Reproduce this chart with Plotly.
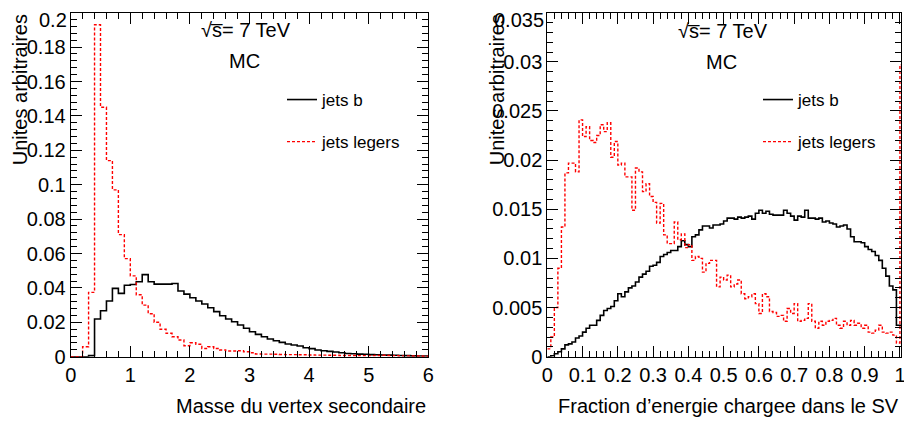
import plotly.graph_objects as go

# ---------------- data ----------------
# Left panel: secondary vertex mass, 60 bins of 0.1 from 0 to 6
mass_edges = [round(0.1 * i, 2) for i in range(61)]
mass_b = [0, 0, 0, 0.0006, 0.0219, 0.0267, 0.0324, 0.0397, 0.0368, 0.0415,
          0.0420, 0.0436, 0.0477, 0.0436, 0.0422, 0.0422, 0.0422, 0.0426, 0.0382, 0.0364,
          0.0343, 0.0324, 0.0306, 0.0285, 0.0262, 0.0238, 0.0219, 0.0203, 0.0184, 0.0165,
          0.0145, 0.0130, 0.0116, 0.0103, 0.0093, 0.0083, 0.0074, 0.0068, 0.0062, 0.0052,
          0.0047, 0.0039, 0.0035, 0.0031, 0.0027, 0.0023, 0.0019, 0.0017, 0.0015, 0.0014,
          0.0012, 0.0011, 0.0010, 0.0009, 0.0008, 0.0007, 0.0006, 0.0005, 0.0004, 0.0004]
mass_light = [0, 0, 0.0058, 0.0374, 0.1930, 0.1450, 0.1140, 0.0970, 0.0710, 0.0570,
              0.0470, 0.0360, 0.0300, 0.0250, 0.0200, 0.0160, 0.0136, 0.0116, 0.0097, 0.0064,
              0.0081, 0.0072, 0.0048, 0.0058, 0.0048, 0.0039, 0.0033, 0.0033, 0.0035, 0.0029,
              0.0023, 0.0016, 0.0015, 0.0015, 0.0014, 0.0013, 0.0012, 0.0012, 0.0011, 0.0011,
              0.0010, 0.0009, 0.0009, 0.0008, 0.0008, 0.0007, 0.0007, 0.0007, 0.0006, 0.0006,
              0.0006, 0.0007, 0.0008, 0.0007, 0.0006, 0.0005, 0.0005, 0.0004, 0.0004, 0.0003]

# Right panel: charged energy fraction in SV, 100 bins of 0.01 (plus one bin just past 1)
frac_edges = [round(0.01 * i, 3) for i in range(102)]
frac_b = [0.0000, 0.0001, 0.0003, 0.0005, 0.0008, 0.0012, 0.0013, 0.0015, 0.0019, 0.0021,
          0.0025, 0.0029, 0.0032, 0.0032, 0.0037, 0.0042, 0.0047, 0.0049, 0.0051, 0.0057,
          0.0064, 0.0061, 0.0066, 0.0070, 0.0072, 0.0076, 0.0081, 0.0084, 0.0087, 0.0092,
          0.0093, 0.0096, 0.0102, 0.0104, 0.0106, 0.0108, 0.0108, 0.0112, 0.0118, 0.0114,
          0.0112, 0.0122, 0.0124, 0.0129, 0.0133, 0.0133, 0.0131, 0.0134, 0.0134, 0.0135,
          0.0138, 0.0141, 0.0141, 0.0140, 0.0142, 0.0141, 0.0142, 0.0143, 0.0140, 0.0146,
          0.0149, 0.0146, 0.0148, 0.0145, 0.0144, 0.0144, 0.0144, 0.0149, 0.0146, 0.0143,
          0.0139, 0.0143, 0.0142, 0.0149, 0.0141, 0.0141, 0.0140, 0.0141, 0.0137, 0.0138,
          0.0136, 0.0135, 0.0132, 0.0133, 0.0134, 0.0130, 0.0122, 0.0117, 0.0117, 0.0116,
          0.0112, 0.0109, 0.0107, 0.0103, 0.0098, 0.0090, 0.0082, 0.0072, 0.0068, 0.0032,
          0.0032]
frac_light = [0.0008, 0.0020, 0.0050, 0.0090, 0.0132, 0.0187, 0.0197, 0.0197, 0.0188, 0.0241,
              0.0224, 0.0234, 0.0220, 0.0218, 0.0225, 0.0236, 0.0229, 0.0238, 0.0203, 0.0219,
              0.0195, 0.0197, 0.0183, 0.0183, 0.0149, 0.0192, 0.0188, 0.0168, 0.0176, 0.0163,
              0.0157, 0.0136, 0.0156, 0.0124, 0.0115, 0.0115, 0.0137, 0.0119, 0.0125, 0.0111,
              0.0114, 0.0098, 0.0102, 0.0100, 0.0086, 0.0095, 0.0098, 0.0098, 0.0071, 0.0081,
              0.0078, 0.0083, 0.0071, 0.0074, 0.0078, 0.0064, 0.0059, 0.0061, 0.0064, 0.0054,
              0.0044, 0.0064, 0.0061, 0.0046, 0.0045, 0.0041, 0.0042, 0.0036, 0.0049, 0.0044,
              0.0054, 0.0036, 0.0037, 0.0039, 0.0054, 0.0036, 0.0029, 0.0036, 0.0032, 0.0036,
              0.0037, 0.0039, 0.0032, 0.0029, 0.0036, 0.0032, 0.0037, 0.0032, 0.0034, 0.0029,
              0.0032, 0.0025, 0.0024, 0.0027, 0.0032, 0.0025, 0.0024, 0.0025, 0.0022, 0.0014,
              0.0297]

# tick values / labels
mass_xticks = [0, 1, 2, 3, 4, 5, 6]
mass_yticks = [0, 0.02, 0.04, 0.06, 0.08, 0.1, 0.12, 0.14, 0.16, 0.18, 0.2]
mass_ylabels = ["0", "0.02", "0.04", "0.06", "0.08", "0.1", "0.12", "0.14", "0.16", "0.18", "0.2"]
frac_xticks = [0, 0.1, 0.2, 0.3, 0.4, 0.5, 0.6, 0.7, 0.8, 0.9, 1.0]
frac_xlabels = ["0", "0.1", "0.2", "0.3", "0.4", "0.5", "0.6", "0.7", "0.8", "0.9", "1"]
frac_yticks = [0, 0.005, 0.01, 0.015, 0.02, 0.025, 0.03, 0.035]
frac_ylabels = ["0", "0.005", "0.01", "0.015", "0.02", "0.025", "0.03", "0.035"]

label_b = "jets b"
label_light = "jets legers"
ytitle = "Unites arbitraires"
xtitle_left = "Masse du vertex secondaire"
xtitle_right = "Fraction d\u2019energie chargee dans le SV"
energy_text = "\u221as\u0305= 7 TeV"
mc_text = "MC"

# ---------------- layout helpers ----------------
# the page body has an 8px margin, so the figure is drawn 8px in from the window corner
OFF = 8
W, H = 912 - OFF, 421 - OFF
FONT = "Liberation Sans, Arial, Helvetica, sans-serif"


def fx(px):
    return (px - OFF) / W


def fy(py):
    return 1 - (py - OFF) / H


def step(edges, vals):
    return list(edges[:len(vals) + 1]), list(vals) + [vals[-1]]


fig = go.Figure()

xm, ym = step(mass_edges, mass_b)
fig.add_trace(go.Scatter(x=xm, y=ym, mode="lines", line_shape="hv",
                         line=dict(color="black", width=1.6), name=label_b,
                         xaxis="x", yaxis="y", legend="legend", legendgroup="a"))
xm, ym = step(mass_edges, mass_light)
fig.add_trace(go.Scatter(x=xm, y=ym, mode="lines", line_shape="hv",
                         line=dict(color="#ff0000", width=1.4, dash="3px,2px"), name=label_light,
                         xaxis="x", yaxis="y", legend="legend", legendgroup="b"))
xf, yf = step(frac_edges, frac_b)
fig.add_trace(go.Scatter(x=xf, y=yf, mode="lines", line_shape="hv",
                         line=dict(color="black", width=1.6), name=label_b,
                         xaxis="x2", yaxis="y2", legend="legend2", legendgroup="c"))
xf, yf = step(frac_edges, frac_light)
fig.add_trace(go.Scatter(x=xf, y=yf, mode="lines", line_shape="hv",
                         line=dict(color="#ff0000", width=1.4, dash="3px,2px"), name=label_light,
                         xaxis="x2", yaxis="y2", legend="legend2", legendgroup="d"))

L1, R1, L2, R2, T, B = 70.7, 428.3, 547.3, 901.0, 12.7, 356.7

axis_common = dict(showline=True, linecolor="black", linewidth=1, mirror="allticks",
                   ticks="inside", ticklen=11, tickcolor="black", tickwidth=1,
                   showgrid=False, zeroline=False, automargin=False,
                   tickfont=dict(family=FONT, size=20, color="black"))

# the topmost y label would poke above the page, so it is written separately just below the edge
fig.update_layout(
    template="none",
    width=W, height=H, margin=dict(l=0, r=0, t=0, b=0, pad=0, autoexpand=False),
    paper_bgcolor="white", plot_bgcolor="white",
    font=dict(family=FONT, color="black"),
    xaxis=dict(domain=[fx(L1), fx(R1)], range=[0, 6], tickvals=mass_xticks, anchor="y",
               minor=dict(dtick=0.2, tick0=0, ticks="inside", ticklen=6, tickcolor="black"), **axis_common),
    yaxis=dict(domain=[fy(B), fy(T)], range=[0, 0.2], tickvals=mass_yticks,
               ticktext=mass_ylabels[:-1] + [""], anchor="x",
               minor=dict(dtick=0.004, tick0=0, ticks="inside", ticklen=6, tickcolor="black"), **axis_common),
    xaxis2=dict(domain=[fx(L2), fx(R2)], range=[0, 1.003], tickvals=frac_xticks,
                ticktext=frac_xlabels, anchor="y2",
                minor=dict(dtick=0.02, tick0=0, ticks="inside", ticklen=6, tickcolor="black"), **axis_common),
    yaxis2=dict(domain=[fy(B), fy(T)], range=[0, 0.035], tickvals=frac_yticks,
                ticktext=frac_ylabels[:-1] + [""], anchor="x2",
                minor=dict(dtick=0.001, tick0=0, ticks="inside", ticklen=6, tickcolor="black"), **axis_common),
    legend=dict(x=fx(282), y=fy(82), xanchor="left", yanchor="top",
                bgcolor="rgba(0,0,0,0)", font=dict(family=FONT, size=17, color="black"),
                tracegroupgap=17, itemwidth=30),
    legend2=dict(x=fx(758), y=fy(82), xanchor="left", yanchor="top",
                 bgcolor="rgba(0,0,0,0)", font=dict(family=FONT, size=17, color="black"),
                 tracegroupgap=17, itemwidth=30),
)

ann = []
for cx, title in ((20, ytitle), (497, ytitle)):
    ann.append(dict(text=title, x=fx(cx), y=fy(T), xref="paper", yref="paper",
                    xanchor="center", yanchor="top", textangle=-90, showarrow=False,
                    font=dict(family=FONT, size=20, color="black")))
for rx, txt in ((67.5, mass_ylabels[-1]), (544.5, frac_ylabels[-1])):
    ann.append(dict(text=txt, x=fx(rx), y=1, xref="paper", yref="paper",
                    xanchor="right", yanchor="top", showarrow=False, borderpad=0,
                    font=dict(family=FONT, size=20, color="black")))
ann.append(dict(text=xtitle_left, x=fx(R1), y=fy(406), xref="paper", yref="paper",
                xanchor="right", yanchor="middle", showarrow=False,
                font=dict(family=FONT, size=20, color="black")))
ann.append(dict(text=xtitle_right, x=fx(R2), y=fy(406), xref="paper", yref="paper",
                xanchor="right", yanchor="middle", showarrow=False,
                font=dict(family=FONT, size=20, color="black")))
for cx, cy, txt in ((246, 30, energy_text), (244.5, 61, mc_text),
                    (723, 31, energy_text), (721.5, 62, mc_text)):
    ann.append(dict(text=txt, x=fx(cx), y=fy(cy), xref="paper", yref="paper",
                    xanchor="center", yanchor="middle", showarrow=False,
                    font=dict(family=FONT, size=20, color="black")))
fig.update_layout(annotations=ann)

fig.write_html("out.html")
